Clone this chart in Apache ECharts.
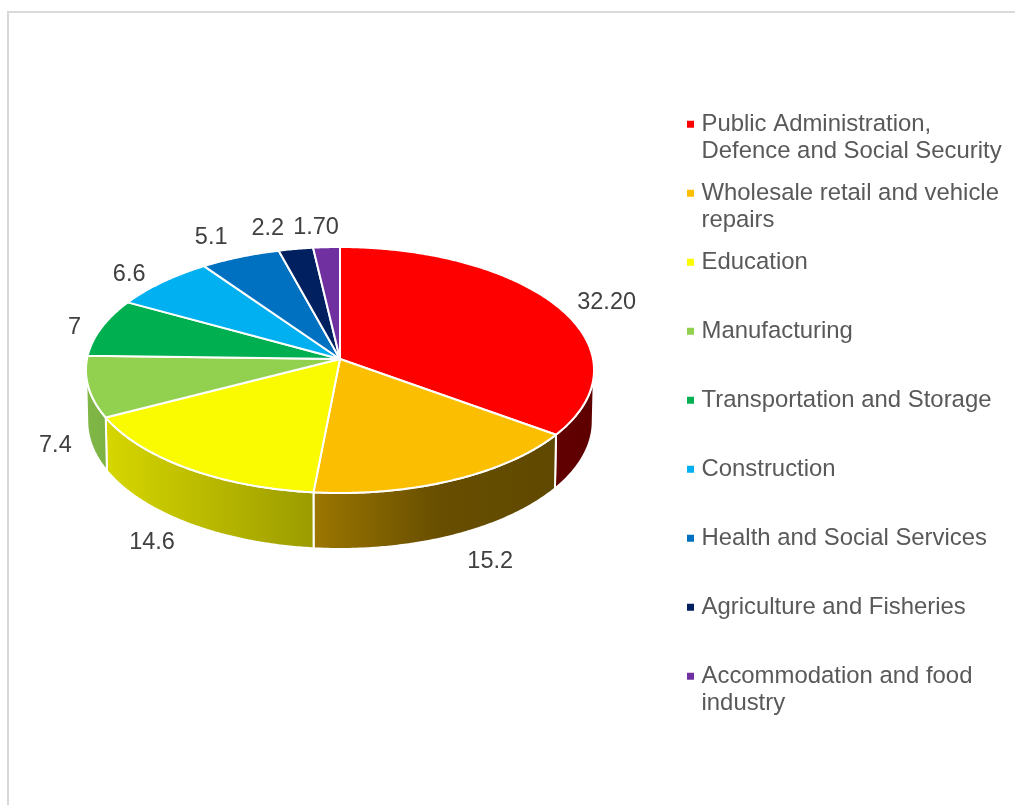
<!DOCTYPE html>
<html>
<head>
<meta charset="utf-8">
<style>html,body{margin:0;padding:0;background:#fff}#chart{width:1015px;height:805px}</style>
<script src="https://cdn.jsdelivr.net/npm/echarts@6/dist/echarts.min.js"></script>
</head>
<body>
<div id="chart"></div>
<script>
// Employment share by sector
const sectors = [
  ['Public Administration,', 'Defence and Social Security'],
  ['Wholesale retail and vehicle', 'repairs'],
  ['Education'],
  ['Manufacturing'],
  ['Transportation and Storage'],
  ['Construction'],
  ['Health and Social Services'],
  ['Agriculture and Fisheries'],
  ['Accommodation and food', 'industry']
];
const shares = [32.2, 15.2, 14.6, 7.4, 7, 6.6, 5.1, 2.2, 1.7];
const shareLabels = ['32.20', '15.2', '14.6', '7.4', '7', '6.6', '5.1', '2.2', '1.70'];
const sliceColors = ['#FF0000', '#FCBE00', '#FAFA00', '#92D050', '#00B050', '#00B0F0', '#0070C0', '#002060', '#7030A0'];

// Label placement relative to the middle of each slice's outer edge
const labelOffsets = [[50, -3], [37, 81], [-35, 74], [-33, 59], [-27, 0], [-33, -8], [-29, -19], [-28, -20], [-10.5, -20]];

// Projection of the tilted disc
const disc = { cx: 340, cy: 359, rx: 253, ry: 122, perspective: 0.0894, depth: 51, bottomShrink: 0.995 };

// Rim lighting across the width of the disc: [x, brightness]
const rimLight = [[86, 0.88], [314, 0.62], [440, 0.41], [600, 0.37]];

const total = shares.reduce((a, b) => a + b, 0);

function project(deg) {
  const t = deg * Math.PI / 180;
  const X = Math.sin(t), Y = -Math.cos(t);
  const s = 1 / (1 - disc.perspective * Y);
  return { x: disc.cx + disc.rx * X * s, y: disc.cy + disc.ry * Y * s, s };
}

function arc(from, to) {
  const pts = [];
  const n = Math.max(2, Math.ceil((to - from) * 2));
  for (let i = 0; i <= n; i++) pts.push(project(from + (to - from) * i / n));
  return pts;
}

function shadeGradient(hex) {
  const r = parseInt(hex.slice(1, 3), 16), g = parseInt(hex.slice(3, 5), 16), b = parseInt(hex.slice(5, 7), 16);
  const x0 = rimLight[0][0], x1 = rimLight[rimLight.length - 1][0];
  const stops = rimLight.map(([x, k]) => ({
    offset: (x - x0) / (x1 - x0),
    color: `rgb(${Math.round(r * k)},${Math.round(g * k)},${Math.round(b * k)})`
  }));
  return new echarts.graphic.LinearGradient(x0, 0, x1, 0, stops, true);
}

// The rim faces the viewer only between the two silhouette angles
const rimFrom = 180 / Math.PI * Math.acos(-disc.perspective);
const rimTo = 360 - rimFrom;

function renderSlice(index) {
  return function (params, api) {
    const value = api.value(0);
    let before = 0;
    for (let i = 0; i < index; i++) before += shares[i];
    const a0 = before / total * 360;
    const a1 = (before + value) / total * 360;
    const children = [];

    const r0 = Math.max(a0, rimFrom), r1 = Math.min(a1, rimTo);
    if (r1 > r0) {
      const edge = arc(r0, r1);
      const top = edge.map(p => [p.x, p.y]);
      const bottom = edge.map(p => [
        disc.cx + (p.x - disc.cx) * disc.bottomShrink,
        p.y + disc.depth * p.s
      ]).reverse();
      children.push({
        type: 'polygon',
        shape: { points: top.concat(bottom) },
        style: { fill: shadeGradient(sliceColors[index]), stroke: '#fff', lineWidth: 2, lineJoin: 'round' }
      });
    }

    children.push({
      type: 'polygon',
      shape: { points: [[disc.cx, disc.cy]].concat(arc(a0, a1).map(p => [p.x, p.y])) },
      style: { fill: sliceColors[index], stroke: '#fff', lineWidth: 2, lineJoin: 'round' }
    });

    const mid = project((a0 + a1) / 2);
    children.push({
      type: 'text',
      style: {
        text: shareLabels[index],
        x: mid.x + labelOffsets[index][0],
        y: mid.y + labelOffsets[index][1],
        align: 'center',
        verticalAlign: 'middle',
        font: '23.5px "Liberation Sans", Arial, sans-serif',
        fill: '#404040'
      }
    });
    return { type: 'group', children };
  };
}

const names = sectors.map(lines => lines.join(' '));
const legendText = {};
sectors.forEach((lines, i) => {
  // A blank line above and below keeps the marker level with the first line
  legendText[names[i]] = '\u00a0\n' + lines[0] + '\n' + (lines[1] || '\u00a0');
});

const chart = echarts.init(document.getElementById('chart'), null, { renderer: 'canvas' });
chart.setOption({
  animation: false,
  backgroundColor: '#fff',
  graphic: [{
    type: 'rect',
    silent: true,
    z: -1,
    shape: { x: 8, y: 12, width: 1200, height: 1000 },
    style: { fill: 'none', stroke: '#D9D9D9', lineWidth: 2 }
  }],
  legend: {
    orient: 'vertical',
    left: 687,
    top: 83,
    padding: 0,
    icon: 'path://M0,0h1v1h-1z',
    itemWidth: 12,
    itemHeight: 7,
    itemGap: -13.5,
    selectedMode: false,
    data: names,
    formatter: name => legendText[name],
    textStyle: {
      fontFamily: '"Liberation Sans", Arial, sans-serif',
      fontSize: 23.9,
      lineHeight: 27.5,
      color: '#595959'
    }
  },
  series: names.map((name, i) => ({
    type: 'custom',
    name,
    coordinateSystem: 'none',
    itemStyle: { color: sliceColors[i] },
    renderItem: renderSlice(i),
    data: [[shares[i]]]
  }))
});
</script>
</body>
</html>
